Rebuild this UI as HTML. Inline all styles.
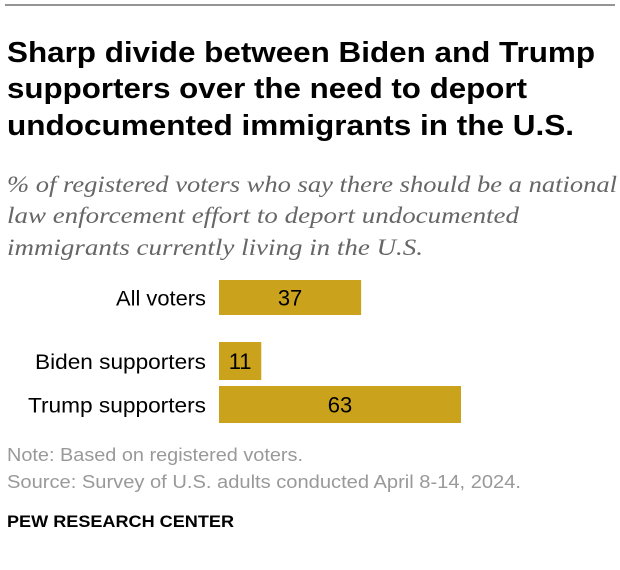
<!DOCTYPE html>
<html><head><meta charset="utf-8"><style>
html,body{margin:0;padding:0;background:#fff;}
svg{display:block;}
</style></head><body>
<svg width="620" height="570" viewBox="0 0 620 570" xmlns="http://www.w3.org/2000/svg">
<line x1="5" y1="5" x2="615" y2="5" stroke="#555" stroke-width="1.2"/>
<g font-family="'Liberation Sans',sans-serif" font-weight="bold" font-size="29" fill="#000">
<text x="7" y="62" textLength="588" lengthAdjust="spacingAndGlyphs">Sharp divide between Biden and Trump</text>
<text x="7" y="98" textLength="520" lengthAdjust="spacingAndGlyphs">supporters over the need to deport</text>
<text x="7" y="135" textLength="567" lengthAdjust="spacingAndGlyphs">undocumented immigrants in the U.S.</text>
</g>
<g font-family="'Liberation Serif',serif" font-style="italic" font-size="23" fill="#666">
<text x="7" y="192" textLength="610" lengthAdjust="spacingAndGlyphs">% of registered voters who say there should be a national</text>
<text x="7" y="223" textLength="512" lengthAdjust="spacingAndGlyphs">law enforcement effort to deport undocumented</text>
<text x="7" y="255" textLength="416" lengthAdjust="spacingAndGlyphs">immigrants currently living in the U.S.</text>
</g>
<g id="bars" font-family="'Liberation Sans',sans-serif" font-size="21"></g>
<g font-family="'Liberation Sans',sans-serif" font-size="18" fill="#999">
<text x="7" y="461" textLength="296" lengthAdjust="spacingAndGlyphs">Note: Based on registered voters.</text>
<text x="7" y="488" textLength="514" lengthAdjust="spacingAndGlyphs">Source: Survey of U.S. adults conducted April 8-14, 2024.</text>
</g>
<text x="7" y="527" font-family="'Liberation Sans',sans-serif" font-weight="bold" font-size="17" fill="#000" textLength="227" lengthAdjust="spacingAndGlyphs">PEW RESEARCH CENTER</text>
</svg>
<script>
const categories = ["All voters","Biden supporters","Trump supporters"];
const values = [37,11,63];
const labelWidths=[90,171,178];
const NS="http://www.w3.org/2000/svg";
const x0=219, scale=242/63;
const tops=[280,342,386], heights=[35,38,37];
const g=document.getElementById('bars');
function xs(v){return v*scale;}
categories.forEach((c,i)=>{
  const r=document.createElementNS(NS,'rect');
  r.setAttribute('x',x0);r.setAttribute('y',tops[i]);
  r.setAttribute('width',xs(values[i]));r.setAttribute('height',heights[i]);
  r.setAttribute('fill','#CBA21B');
  
  
  g.appendChild(r);
  const cy=tops[i]+heights[i]/2+8;
  const l=document.createElementNS(NS,'text');
  l.setAttribute('x',206);l.setAttribute('y',cy);l.setAttribute('text-anchor','end');
  l.setAttribute('textLength',labelWidths[i]);l.setAttribute('lengthAdjust','spacingAndGlyphs');
  l.textContent=c;
  
  
  g.appendChild(l);
  const t=document.createElementNS(NS,'text');
  t.setAttribute('x',x0+xs(values[i])/2);t.setAttribute('y',cy);t.setAttribute('text-anchor','middle');
  t.setAttribute('font-size','22');
  t.textContent=values[i];
  
  
  g.appendChild(t);
});
</script>
</body></html>
